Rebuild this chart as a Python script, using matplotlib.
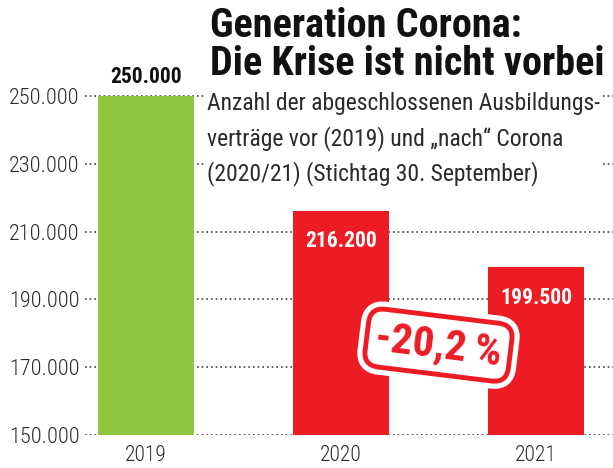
import matplotlib
matplotlib.use('Agg')
import matplotlib.pyplot as plt
import matplotlib.patheffects as pe
from matplotlib.ticker import FuncFormatter

years = ['2019', '2020', '2021']
contracts = [250000, 216200, 199500]
value_labels = ['250.000', '216.200', '199.500']
bar_colors = ['#8dc63f', '#ed1c24', '#ed1c24']
y_ticks = [150000, 170000, 190000, 210000, 230000, 250000]
change_label = '-20,2\u2009%'

title = 'Generation Corona:\nDie Krise ist nicht vorbei'
subtitle = ('Anzahl der abgeschlossenen Ausbildungs-\n'
            'verträge vor (2019) und \u201enach\u201c Corona\n'
            '(2020/21) (Stichtag 30. September)')

plt.rcParams['font.family'] = ['Roboto Condensed', 'DejaVu Sans']

RED = '#ed1c24'
TEXT = '#2b2b2b'


def thousands(v, pos=None):
    return f'{int(v):,}'.replace(',', '.')


def main():
    fig = plt.figure(figsize=(6.13, 4.68), dpi=100)
    ax = fig.add_axes([85 / 613, 33 / 468, 528 / 613, 435 / 468])

    x = range(len(years))
    bars = ax.bar(x, contracts, width=0.49, color=bar_colors, zorder=2)

    ax.set_xlim(-0.313, 2.395)
    ax.set_ylim(150000, 278300)
    ax.set_yticks(y_ticks)
    ax.yaxis.set_major_formatter(FuncFormatter(thousands))
    ax.set_xticks(list(x))
    ax.set_xticklabels(years)
    ax.tick_params(axis='both', length=0, labelsize=16, colors=TEXT)
    ax.tick_params(axis='y', pad=4)
    ax.tick_params(axis='x', pad=7, labelsize=15.5)
    for lab in ax.get_xticklabels() + ax.get_yticklabels():
        lab.set_fontweight('light')
    for s in ax.spines.values():
        s.set_visible(False)
    ax.yaxis.grid(True, linestyle=(0, (1, 1.8)), color='#444444', linewidth=1.2, zorder=1)
    ax.set_axisbelow(True)

    # value labels
    for i, (b, lab) in enumerate(zip(bars, value_labels)):
        top = b.get_height()
        if i == 0:
            ax.annotate(lab, (b.get_x() + b.get_width() / 2, top), xytext=(0, 6),
                        textcoords='offset points', ha='center', va='bottom',
                        fontsize=15.5, fontweight='bold', color='#111111')
        else:
            ax.annotate(lab, (b.get_x() + b.get_width() / 2, top), xytext=(0, -14),
                        textcoords='offset points', ha='center', va='top',
                        fontsize=15.5, fontweight='bold', color='white')

    # stamp with the change
    stamp = ax.text(1.5, 176500, change_label, ha='center', va='center',
                    rotation=-7, fontsize=31, fontweight='bold', color=RED, zorder=5,
                    bbox=dict(boxstyle='round,pad=0.2,rounding_size=0.35',
                              facecolor='white', edgecolor=RED, linewidth=3.5))
    stamp.get_bbox_patch().set_path_effects([
        pe.Stroke(linewidth=11, foreground='white'), pe.Normal()])

    fig.text(210 / 613, 1 - 7 / 468, title, ha='left', va='top', fontsize=29,
             fontweight='bold', color='#111111', linespacing=1.0)
    fig.text(207 / 613, 1 - 92 / 468, subtitle, ha='left', va='top', fontsize=17,
             color=TEXT, linespacing=1.55, zorder=4,
             bbox=dict(facecolor='white', edgecolor='none', pad=2))

    fig.savefig('out.png', dpi=100)


if __name__ == '__main__':
    main()
